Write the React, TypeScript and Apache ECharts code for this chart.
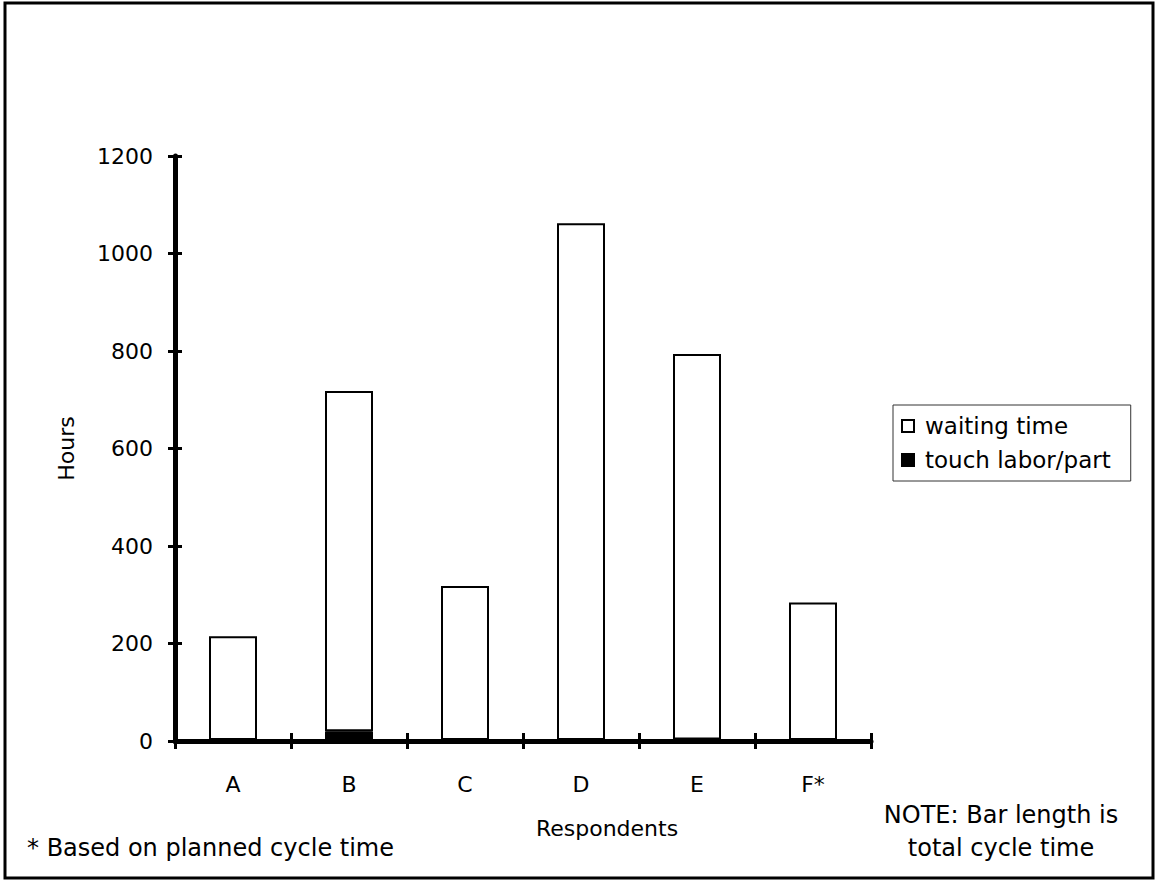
import React, { useEffect, useRef } from "react";
import * as echarts from "echarts";

const categories = ["A", "B", "C", "D", "E", "F*"];
const touchLabor = [2, 20, 2, 2, 3, 2];
const waitingTime = [213, 698, 316, 1060, 791, 282];
const yTicks = { min: 0, max: 1200, interval: 200 };

const FONT = "DejaVu Sans";

export default function App() {
  const ref = useRef<HTMLDivElement>(null);
  useEffect(() => {
    const chart = echarts.init(ref.current!, null, { renderer: "svg" });
    chart.setOption({
      animation: false,
      backgroundColor: "#fff",
      textStyle: { fontFamily: FONT, color: "#000" },
      grid: { left: 175, right: 285, top: 156, bottom: 142 },
      legend: {
        orient: "vertical",
        left: 893,
        top: 405,
        borderColor: "#333",
        borderWidth: 1,
        padding: [9, 20, 9, 8],
        itemWidth: 12,
        itemHeight: 12,
        itemGap: 10,
        icon: "rect",
        textStyle: { fontFamily: FONT, fontSize: 23, color: "#000", lineHeight: 24, padding: [0, 0, 0, 6] },
        data: ["waiting time", "touch labor/part"],
      },
      xAxis: [
        {
          type: "category",
          data: categories,
          axisLine: { lineStyle: { color: "#000", width: 5 } },
          axisTick: { show: true, length: 8, lineStyle: { color: "#000", width: 3 } },
          axisLabel: { color: "#000", fontFamily: FONT, fontSize: 22, margin: 32 },
        },
        {
          type: "category",
          data: categories,
          position: "bottom",
          axisLine: { show: false },
          axisTick: { show: true, inside: true, length: 8, lineStyle: { color: "#000", width: 3 } },
          axisLabel: { show: false },
        },
      ],
      yAxis: [
        {
          type: "value",
          min: yTicks.min,
          max: yTicks.max,
          interval: yTicks.interval,
          name: "Hours",
          nameLocation: "middle",
          nameGap: 98,
          nameTextStyle: { color: "#000", fontFamily: FONT, fontSize: 22 },
          splitLine: { show: false },
          axisLine: { show: true, lineStyle: { color: "#000", width: 5 } },
          axisTick: { show: true, length: 7, lineStyle: { color: "#000", width: 3 } },
          axisLabel: {
            color: "#000",
            fontFamily: FONT,
            fontSize: 22,
            margin: 22,
            formatter: (v: number) => String(v),
          },
        },
        {
          type: "value",
          min: yTicks.min,
          max: yTicks.max,
          interval: yTicks.interval,
          position: "left",
          splitLine: { show: false },
          axisLine: { show: false },
          axisTick: { show: true, inside: true, length: 7, lineStyle: { color: "#000", width: 3 } },
          axisLabel: { show: false },
        },
      ],
      series: [
        {
          name: "touch labor/part",
          type: "bar",
          stack: "total",
          barWidth: 48,
          data: touchLabor,
          itemStyle: { color: "#000", borderColor: "#000", borderWidth: 1 },
        },
        {
          name: "waiting time",
          type: "bar",
          stack: "total",
          barWidth: 48,
          data: waitingTime,
          itemStyle: { color: "#fff", borderColor: "#000", borderWidth: 2 },
        },
      ],
      graphic: [
        {
          type: "rect",
          shape: { x: 5, y: 3, width: 1148, height: 875 },
          style: { fill: "none", stroke: "#000", lineWidth: 3 },
          silent: true,
        },
        {
          type: "text",
          x: 607,
          y: 828,
          style: { text: "Respondents", font: `22px "${FONT}"`, fill: "#000", align: "center", verticalAlign: "middle" },
        },
        {
          type: "text",
          x: 27,
          y: 848,
          style: { text: "* Based on planned cycle time", font: `24px "${FONT}"`, fill: "#000", align: "left", verticalAlign: "middle" },
        },
        {
          type: "text",
          x: 1001,
          y: 815,
          style: { text: "NOTE: Bar length is", font: `24px "${FONT}"`, fill: "#000", align: "center", verticalAlign: "middle" },
        },
        {
          type: "text",
          x: 1001,
          y: 848,
          style: { text: "total cycle time", font: `24px "${FONT}"`, fill: "#000", align: "center", verticalAlign: "middle" },
        },
      ],
    });
    return () => chart.dispose();
  }, []);
  return (
    <div
      ref={ref}
      style={{ position: "absolute", left: 0, top: 0, width: 1156, height: 883 }}
    />
  );
}
